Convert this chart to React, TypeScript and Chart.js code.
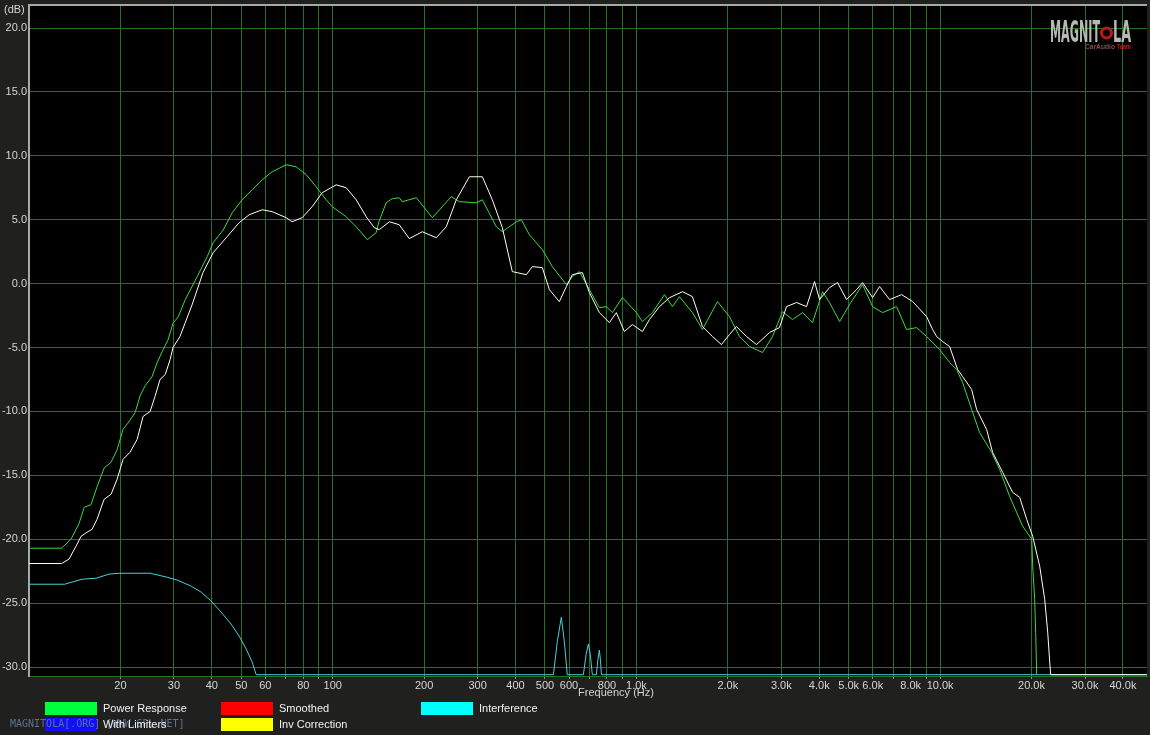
import React, { useEffect, useRef } from "react";
import { Chart, registerables } from "chart.js";
Chart.register(...registerables);

// ---- data (frequency in Hz, level in dB) ----
const GREEN_F = [10, 12.8, 13.75, 14.6, 15.2, 16.0, 16.75, 17.7, 18.6, 19.5, 20.4, 21.2, 22.35, 23.2, 24.1, 25.4, 26.4, 27.6, 28.7, 29.8, 31.0, 32.7, 35.8, 38.6, 40.4, 43.6, 46.7, 50.3, 54.3, 58.6, 63.2, 70.3, 75.8, 81.8, 88.2, 95.2, 99.6, 110.8, 119.5, 130, 139, 142, 150, 157, 165.6, 169.4, 188.5, 212.8, 245.7, 261.2, 297, 311, 345.7, 361.9, 402.3, 417.9, 444.1, 490, 528.8, 588, 615.4, 649, 700, 755.3, 796.4, 833.5, 899.4, 1000, 1047, 1129, 1237, 1314, 1386, 1529, 1650, 1849, 2025, 2185, 2357, 2602, 2806, 3028, 3266, 3524, 3802, 4101, 4324, 4667, 5032, 5555, 5994, 6465, 7189, 7755, 8368, 9027, 9963, 10746, 11335, 11860, 12700, 13490, 14780, 15700, 16940, 18700, 20030, 20180, 20480, 20640, 20800];
const GREEN_DB = [-20.7, -20.7, -20.0, -18.8, -17.5, -17.3, -15.9, -14.4, -14.0, -13.0, -11.4, -10.9, -10.1, -8.8, -8.0, -7.3, -6.2, -5.2, -4.4, -3.1, -2.6, -1.25, 0.55, 2.1, 3.2, 4.2, 5.55, 6.56, 7.34, 8.13, 8.75, 9.3, 9.14, 8.52, 7.58, 6.56, 6.02, 5.23, 4.45, 3.44, 3.98, 4.84, 6.33, 6.64, 6.72, 6.41, 6.72, 5.16, 6.8, 6.41, 6.33, 6.56, 4.45, 4.06, 4.84, 5.0, 3.83, 2.66, 1.33, -0.08, 0.55, 0.94, -0.47, -1.88, -1.8, -2.27, -1.09, -2.27, -2.97, -2.27, -0.86, -1.8, -1.02, -2.27, -3.59, -1.41, -2.58, -4.14, -4.92, -5.39, -4.14, -2.19, -2.81, -2.27, -3.05, -0.63, -1.48, -2.97, -1.64, -0.08, -1.8, -2.27, -1.8, -3.59, -3.44, -4.14, -5.16, -6.17, -6.72, -7.73, -9.84, -11.64, -13.2, -14.53, -16.64, -18.98, -20.0, -22.1, -24.7, -27.3, -30.6];

const WHITE_F = [10, 12.8, 13.54, 14.28, 14.84, 15.53, 16.13, 16.75, 17.67, 18.63, 19.5, 20.4, 21.5, 22.7, 23.75, 25.05, 26.0, 27.0, 28.1, 29.15, 29.8, 31.4, 32.7, 34.5, 37.4, 40.4, 44.9, 49.2, 53.1, 58.6, 63.2, 70.3, 73.5, 79.3, 85.6, 92.3, 102.7, 110.8, 119.5, 129, 137, 142.3, 153.6, 165.6, 178.7, 197.2, 219.3, 236.6, 255.3, 281.8, 311, 335.4, 361.9, 390.3, 434.1, 454.3, 490, 516.9, 557.5, 588, 615.4, 664, 700, 755.3, 814.7, 859, 913, 970, 1047, 1104, 1191, 1285, 1418, 1529, 1650, 1780, 1906, 2025, 2135, 2304, 2486, 2743, 2959, 3121, 3367, 3632, 3860, 4009, 4324, 4596, 4919, 5307, 5555, 5994, 6320, 6817, 7467, 8118, 9027, 9447, 9739, 10190, 10746, 11420, 11860, 12700, 13190, 14230, 14890, 16070, 17330, 18280, 19280, 20180, 21280, 22100, 22610, 22960, 23130, 48000];
const WHITE_DB = [-21.9, -21.9, -21.56, -20.55, -19.77, -19.45, -19.22, -18.44, -16.88, -16.48, -15.31, -13.75, -13.2, -12.19, -10.39, -10.0, -8.83, -7.5, -7.11, -5.94, -5.0, -4.14, -3.05, -1.6, 0.86, 2.42, 3.67, 4.77, 5.39, 5.78, 5.63, 5.16, 4.84, 5.16, 6.02, 7.11, 7.73, 7.5, 6.56, 5.23, 4.38, 4.22, 4.84, 4.61, 3.52, 4.06, 3.59, 4.45, 6.56, 8.36, 8.36, 6.56, 4.38, 0.94, 0.7, 1.33, 1.25, -0.47, -1.41, -0.23, 0.7, 0.86, -0.7, -2.27, -3.05, -2.27, -3.75, -3.2, -3.75, -2.81, -1.8, -1.1, -0.63, -1.02, -3.36, -4.14, -4.77, -3.98, -3.36, -4.14, -4.77, -3.83, -3.44, -1.8, -1.48, -1.8, 0.16, -1.25, -0.31, 0.08, -1.25, -0.47, 0.08, -1.09, -0.23, -1.25, -0.86, -1.4, -2.58, -3.59, -4.14, -4.53, -4.92, -6.72, -7.27, -8.28, -9.84, -11.41, -13.2, -14.77, -16.33, -16.72, -18.44, -19.77, -22.11, -24.69, -27.27, -29.61, -30.6, -30.6];

const CYAN_F = [10, 13.1, 14.95, 16.63, 18.34, 19.85, 25.05, 28.5, 30.8, 34.2, 36.9, 39.8, 42.9, 46.3, 49.2, 51.9, 54.3, 56.0, 533, 549, 566, 579, 592, 669, 683, 695, 705, 716, 738, 747, 755, 761, 767, 48000];
const CYAN_DB = [-23.52, -23.52, -23.13, -23.05, -22.73, -22.66, -22.66, -22.97, -23.2, -23.67, -24.14, -24.84, -25.7, -26.64, -27.58, -28.59, -29.61, -30.6, -30.6, -28.0, -26.1, -28.0, -30.6, -30.6, -29.0, -28.2, -29.0, -30.6, -30.6, -29.4, -28.67, -29.4, -30.6, -30.6];

const X_TICKS = [20, 30, 40, 50, 60, 70, 80, 90, 100, 200, 300, 400, 500, 600, 700, 800, 900, 1000, 2000, 3000, 4000, 5000, 6000, 7000, 8000, 9000, 10000, 20000, 30000, 40000];
const X_UNLABELED = [70, 90, 700, 900, 7000, 9000];
const Y_TICKS = [-30, -25, -20, -15, -10, -5, 0, 5, 10, 15, 20];

const LEGEND_ITEMS = [
  { label: "Power Response", color: "#00ff3c", col: 0, row: 0 },
  { label: "With Limiters", color: "#1010ff", col: 0, row: 1 },
  { label: "Smoothed", color: "#ff0000", col: 1, row: 0 },
  { label: "Inv Correction", color: "#ffff00", col: 1, row: 1 },
  { label: "Interference", color: "#00ffff", col: 2, row: 0 },
];

const GRID = "#237323";
const TEXT = "#d6d6d6";
const FONT = '"Liberation Sans", Arial, sans-serif';

const pts = (f: number[], d: number[]) => f.map((x, i) => ({ x, y: d[i] }));

const fmtX = (v: number) => {
  if (X_UNLABELED.includes(v)) return "";
  if (v < 1000) return String(v);
  return (v / 1000).toFixed(1) + "k";
};

const bgPlugin = {
  id: "bgPlugin",
  beforeDraw(chart: any) {
    const { ctx, chartArea: a, width, height } = chart;
    ctx.save();
    ctx.fillStyle = "#20201e";
    ctx.fillRect(0, 0, width, height);
    ctx.fillStyle = "#000000";
    ctx.fillRect(a.left, a.top, a.right - a.left, a.bottom - a.top);
    ctx.restore();
  },
  afterDraw(chart: any) {
    const { ctx, chartArea: a } = chart;
    ctx.save();
    // top border
    ctx.strokeStyle = "#a8a8a8";
    ctx.lineWidth = 2;
    ctx.beginPath();
    ctx.moveTo(a.left - 1, a.top);
    ctx.lineTo(a.right, a.top);
    ctx.stroke();

    ctx.fillStyle = TEXT;
    ctx.font = `11px ${FONT}`;
    ctx.textBaseline = "middle";
    ctx.textAlign = "left";
    ctx.fillText("(dB)", 4, 10);
    ctx.textAlign = "center";
    ctx.fillText("Frequency (Hz)", 616, 693);

    // legend boxes
    const colX = [45, 221, 421];
    const rowY = [702, 718];
    ctx.textAlign = "left";
    for (const it of LEGEND_ITEMS) {
      ctx.fillStyle = it.color;
      ctx.fillRect(colX[it.col], rowY[it.row], 52, 13);
    }
    // watermark
    ctx.font = `10px "DejaVu Sans Mono", monospace`;
    ctx.fillStyle = "#5f6f96";
    ctx.fillText("MAGNITOLA[.ORG] [WWW.SPL.NET]", 10, 724);
    // legend labels
    ctx.font = `11px ${FONT}`;
    for (const it of LEGEND_ITEMS) {
      ctx.fillStyle = "#f2f2f2";
      ctx.fillText(it.label, colX[it.col] + 58, rowY[it.row] + 7);
    }

    // logo
    ctx.font = `bold 30px "DejaVu Sans Condensed", "Liberation Sans Narrow", sans-serif`;
    ctx.textBaseline = "alphabetic";
    ctx.fillStyle = "#b4b9b4";
    ctx.fillText("MAGNIT", 1050, 42, 50);
    ctx.fillText("LA", 1113, 42, 18);
    ctx.strokeStyle = "#c01818";
    ctx.lineWidth = 3;
    ctx.beginPath();
    ctx.arc(1106.5, 33, 5, 0, Math.PI * 2);
    ctx.stroke();
    ctx.font = `bold 8px ${FONT}`;
    ctx.fillStyle = "#8a4a4a";
    ctx.fillText("CarAudio", 1085, 49, 30);
    ctx.fillStyle = "#d01818";
    ctx.fillText("Team", 1117, 49, 14);
    ctx.restore();
  },
};

export default function App() {
  const ref = useRef<HTMLCanvasElement | null>(null);
  useEffect(() => {
    if (!ref.current) return;
    const chart = new Chart(ref.current, {
      type: "line",
      data: {
        datasets: [
          { label: "Response 2", data: pts(WHITE_F, WHITE_DB), borderColor: "#fffff0", borderWidth: 1 },
          { label: "Power Response", data: pts(GREEN_F, GREEN_DB), borderColor: "#3ed83e", borderWidth: 1 },
          { label: "Interference", data: pts(CYAN_F, CYAN_DB), borderColor: "#46d2da", borderWidth: 1 },
        ],
      },
      options: {
        responsive: false,
        animation: false,
        devicePixelRatio: 1,
        layout: { padding: { left: 0, top: 5, right: 3, bottom: 0 } },
        plugins: { legend: { display: false }, tooltip: { enabled: false } },
        elements: { point: { radius: 0 }, line: { tension: 0, borderWidth: 1 } },
        scales: {
          x: {
            type: "logarithmic",
            min: 10,
            max: 48000,
            afterFit: (s: any) => { s.height = 59; s.paddingLeft = 0; s.paddingRight = 0; },
            afterBuildTicks: (s: any) => { s.ticks = X_TICKS.map((v) => ({ value: v })); },
            ticks: {
              autoSkip: false,
              maxRotation: 0,
              minRotation: 0,
              padding: 0,
              color: TEXT,
              font: { size: 11, family: FONT },
              callback: (v: any) => fmtX(Number(v)),
            },
            grid: { color: GRID, tickColor: "#8a8a8a", tickLength: 3, lineWidth: 1 },
            border: { display: true, color: GRID, width: 1 },
          },
          y: {
            type: "linear",
            min: -30.7,
            max: 21.8,
            afterFit: (s: any) => { s.width = 29; s.paddingTop = 0; s.paddingBottom = 0; },
            afterBuildTicks: (s: any) => { s.ticks = Y_TICKS.map((v) => ({ value: v })); },
            ticks: {
              padding: 2,
              color: TEXT,
              font: { size: 11, family: FONT },
              callback: (v: any) => Number(v).toFixed(1),
            },
            grid: { color: GRID, drawTicks: false, lineWidth: 1 },
            border: { display: true, color: "#a8a8a8", width: 2 },
          },
        },
      },
      plugins: [bgPlugin],
    } as any);
    return () => chart.destroy();
  }, []);
  return (
    <div style={{ position: "absolute", left: 0, top: 0, width: 1150, height: 735, background: "#20201e" }}>
      <canvas ref={ref} width={1150} height={735} style={{ display: "block", width: 1150, height: 735 }} />
    </div>
  );
}
